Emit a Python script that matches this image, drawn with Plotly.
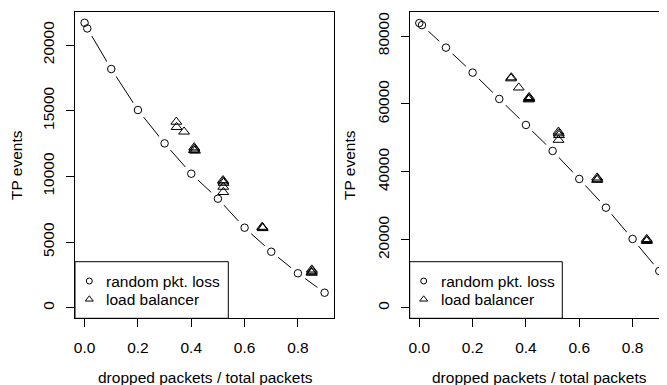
import plotly.graph_objects as go

# ---------------- data ----------------
ratio_random = [0.0, 0.01, 0.1, 0.2, 0.3, 0.4, 0.5, 0.6, 0.7, 0.8, 0.9]
tp_random_left = [21690, 21260, 18170, 15050, 12510, 10200, 8300, 6090, 4260, 2620, 1140]
tp_random_right = [83800, 83200, 76580, 69220, 61470, 53810, 46160, 37910, 29450, 20240, 10810]

ratio_lb_left = [0.344, 0.345, 0.373, 0.410, 0.412, 0.414, 0.411,
                 0.520, 0.521, 0.519, 0.520, 0.520,
                 0.666, 0.667, 0.668, 0.852, 0.853, 0.851, 0.852]
tp_lb_left = [14150, 13750, 13400, 12000, 12100, 11950, 12200,
              9600, 9500, 9700, 9200, 8800,
              6150, 6100, 6050, 2900, 2800, 2700, 2650]

ratio_lb_right = [0.344, 0.345, 0.373, 0.410, 0.411, 0.412, 0.413,
                  0.522, 0.523, 0.524, 0.522,
                  0.667, 0.668, 0.667, 0.853, 0.854, 0.853]
tp_lb_right = [67500, 67800, 64800, 61300, 61700, 62000, 61500,
               51800, 51300, 50800, 49400,
               38300, 37900, 37600, 20200, 19900, 19600]

x_ticks = [0.0, 0.2, 0.4, 0.6, 0.8]
x_tick_labels = ["0.0", "0.2", "0.4", "0.6", "0.8"]
y_ticks_left = [0, 5000, 10000, 15000, 20000]
y_ticks_right = [0, 20000, 40000, 60000, 80000]
legend_labels = ["random pkt. loss", "load balancer"]
x_title = "dropped packets / total packets"
y_title = "TP events"

# ---------------- layout helpers ----------------
# the page body has an 8px margin, so the figure starts at window pixel (8, 8)
OFF = 8
WIN_W, WIN_H = 667, 385
W, H = WIN_W - OFF, WIN_H - OFF
FONT = "Liberation Sans, Arial, Helvetica, sans-serif"
FS = 15.5


def fx(px):
    return (px - OFF) / W


def fy(py):
    return 1 - (py - OFF) / H


fig = go.Figure()


def add_panel(xa, ya, xr, yr_rand, xl, yl):
    fig.add_trace(go.Scatter(x=xr, y=yr_rand, mode="lines", xaxis=xa, yaxis=ya,
                             line=dict(color="black", width=1), showlegend=False,
                             hoverinfo="skip"))
    fig.add_trace(go.Scatter(x=xr, y=yr_rand, mode="markers", xaxis=xa, yaxis=ya,
                             marker=dict(symbol="circle", size=18, color="white",
                                         line=dict(width=0)),
                             showlegend=False, hoverinfo="skip"))
    fig.add_trace(go.Scatter(x=xr, y=yr_rand, mode="markers", xaxis=xa, yaxis=ya,
                             marker=dict(symbol="circle-open", size=7.5, color="black",
                                         line=dict(width=1, color="black")),
                             showlegend=False))
    fig.add_trace(go.Scatter(x=xl, y=yl, mode="markers", xaxis=xa, yaxis=ya,
                             marker=dict(symbol="triangle-up-open", size=9.5, color="black",
                                         line=dict(width=1, color="black")),
                             showlegend=False))


add_panel("x", "y", ratio_random, tp_random_left, ratio_lb_left, tp_lb_left)
add_panel("x2", "y2", ratio_random, tp_random_right, ratio_lb_right, tp_lb_right)

# legend keys on a window-pixel overlay axis
legend_key_x = [89.3, 89.3, 423.7, 423.7]
legend_y = [281, 299.3, 281, 299.3]
fig.add_trace(go.Scatter(x=[legend_key_x[0], legend_key_x[2]], y=[legend_y[0], legend_y[2]],
                         mode="markers", xaxis="x3", yaxis="y3", cliponaxis=False,
                         marker=dict(symbol="circle-open", size=6, color="black",
                                     line=dict(width=1, color="black")),
                         showlegend=False, hoverinfo="skip"))
fig.add_trace(go.Scatter(x=[legend_key_x[1], legend_key_x[3]], y=[legend_y[1], legend_y[3]],
                         mode="markers", xaxis="x3", yaxis="y3", cliponaxis=False,
                         marker=dict(symbol="triangle-up-open", size=7, color="black",
                                     line=dict(width=1, color="black")),
                         showlegend=False, hoverinfo="skip"))

top, bottom = 11.7, 318.3
common_x = dict(tickvals=x_ticks, ticktext=x_tick_labels, ticks="outside", ticklen=8,
                tickcolor="black", tickwidth=1, showline=True, linecolor="black",
                linewidth=1, showgrid=False, zeroline=False, automargin=False,
                ticklabelstandoff=7,
                tickfont=dict(family=FONT, size=FS, color="black"))
common_y = dict(ticks="outside", ticklen=8, tickcolor="black", tickwidth=1,
                showline=True, linecolor="black", linewidth=1, showgrid=False,
                zeroline=False, tickangle=-90, automargin=False,
                ticklabelstandoff=6,
                tickfont=dict(family=FONT, size=FS, color="black"))

fig.update_layout(
    template="none",
    width=W, height=H,
    margin=dict(l=0, r=0, t=0, b=0, pad=0),
    paper_bgcolor="white", plot_bgcolor="rgba(0,0,0,0)",
    font=dict(family=FONT, size=FS, color="black"),
    xaxis=dict(domain=[fx(75), fx(334.2)], range=[-0.036, 0.936], anchor="y",
               mirror=True, **common_x),
    yaxis=dict(domain=[fy(bottom), fy(top)], range=[-807, 22535], anchor="x",
               tickvals=y_ticks_left, ticktext=[str(v) for v in y_ticks_left],
               mirror=True, **common_y),
    xaxis2=dict(domain=[fx(409.7), 1.0], range=[-0.036, 0.929], anchor="y2",
                mirror=True, **common_x),
    yaxis2=dict(domain=[fy(bottom), fy(top)], range=[-3121, 87155], anchor="x2",
                tickvals=y_ticks_right, ticktext=[str(v) for v in y_ticks_right],
                mirror=False, **common_y),
    xaxis3=dict(domain=[0, 1], range=[OFF, WIN_W], visible=False, anchor="y3",
                fixedrange=True, automargin=False),
    yaxis3=dict(domain=[0, 1], range=[WIN_H, OFF], visible=False, anchor="x3",
                fixedrange=True, automargin=False),
    showlegend=False,
)

shapes = []
annotations = []
for (bx0, bx1, textx, titlex, ytitlex) in [(75, 228.3, 104.3, 205, 16), (409.7, 562.3, 439, 539, 349)]:
    shapes.append(dict(type="rect", xref="paper", yref="paper",
                       x0=fx(bx0), x1=fx(bx1), y0=fy(bottom), y1=fy(261.7),
                       line=dict(color="black", width=1), fillcolor="rgba(0,0,0,0)",
                       layer="above"))
    for lab, ly in zip(legend_labels, legend_y[:2]):
        annotations.append(dict(text=lab, xref="paper", yref="paper", x=fx(textx), y=fy(ly),
                                xanchor="left", yanchor="middle", showarrow=False,
                                font=dict(family=FONT, size=FS, color="black")))
    annotations.append(dict(text=x_title, xref="paper", yref="paper", x=fx(titlex), y=fy(377),
                            xanchor="center", yanchor="middle", showarrow=False,
                            font=dict(family=FONT, size=FS, color="black")))
    annotations.append(dict(text=y_title, xref="paper", yref="paper", x=fx(ytitlex), y=fy(165),
                            xanchor="center", yanchor="middle", showarrow=False, textangle=-90,
                            font=dict(family=FONT, size=FS, color="black")))

fig.update_layout(shapes=shapes, annotations=annotations)
fig.write_html("out.html")
